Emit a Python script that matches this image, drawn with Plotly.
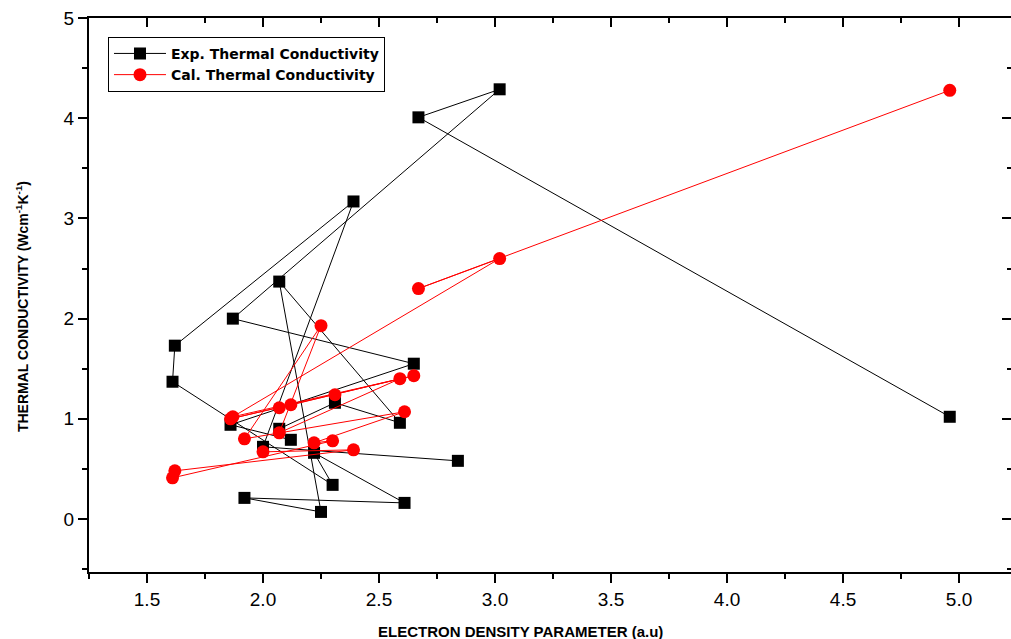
import plotly.graph_objects as go

# Electron density parameter (a.u), in plotting order
x_vals = [2.84, 2.00, 2.39, 1.62, 1.61, 2.30, 2.22, 2.61, 1.92, 2.25, 2.07,
          2.59, 2.31, 2.07, 2.12, 1.86, 2.65, 1.87, 3.02, 2.67, 4.96]
# Experimental thermal conductivity
exp_vals = [0.58, 0.72, 3.17, 1.73, 1.37, 0.34, 0.66, 0.16, 0.21, 0.07, 2.37,
            0.96, 1.16, 0.90, 0.79, 0.94, 1.55, 2.00, 4.29, 4.01, 1.02]
# Calculated thermal conductivity
cal_vals = [None, 0.67, 0.69, 0.48, 0.41, 0.78, 0.76, 1.07, 0.80, 1.93, 0.86,
            1.40, 1.24, 1.11, 1.14, 1.00, 1.43, 1.02, 2.60, 2.30, 4.28]

x_ticks = [1.5, 2.0, 2.5, 3.0, 3.5, 4.0, 4.5, 5.0]
x_tick_text = ["1.5", "2.0", "2.5", "3.0", "3.5", "4.0", "4.5", "5.0"]
y_ticks = [0, 1, 2, 3, 4, 5]

X_RANGE = [1.25, 5.224]
Y_RANGE = [-0.53, 5.002]

fig = go.Figure()
fig.add_trace(go.Scatter(
    x=x_vals, y=exp_vals, mode="lines+markers",
    name="Exp. Thermal Conductivity",
    line=dict(color="black", width=1),
    marker=dict(symbol="square", size=12, color="black"),
))
fig.add_trace(go.Scatter(
    x=x_vals, y=cal_vals, mode="lines+markers",
    name="Cal. Thermal Conductivity",
    line=dict(color="#ff0000", width=1),
    marker=dict(symbol="circle", size=13, color="#ff0000"),
))
# helper trace for the mirrored (top / right) axes
fig.add_trace(go.Scatter(x=[None], y=[None], xaxis="x2", yaxis="y2",
                         showlegend=False, hoverinfo="skip"))

tickfont = dict(family="Liberation Sans, Arial, sans-serif", size=19, color="black")

fig.update_layout(
    width=1011, height=639,
    margin=dict(l=89, r=0, t=18, b=67, autoexpand=False),
    paper_bgcolor="white", plot_bgcolor="white",
    showlegend=True,
    legend=dict(
        x=0.0206, y=0.966, xanchor="left", yanchor="top",
        bgcolor="white", bordercolor="black", borderwidth=1,
        font=dict(family="DejaVu Sans, Liberation Sans, Arial, sans-serif", size=14, color="black", weight="bold"),
        itemwidth=52, tracegroupgap=0,
    ),
    xaxis=dict(
        range=X_RANGE, showgrid=False, zeroline=False, automargin=False,
        showline=True, linecolor="black", linewidth=2,
        tickvals=x_ticks, ticktext=x_tick_text,
        ticks="outside", ticklen=9, tickwidth=2, tickcolor="black",
        minor=dict(ticks="outside", ticklen=5, tickwidth=1.5, tickcolor="black", dtick=0.25),
        tickfont=tickfont,
    ),
    yaxis=dict(
        range=Y_RANGE, showgrid=False, zeroline=False, automargin=False,
        showline=True, linecolor="black", linewidth=2,
        tickvals=y_ticks,
        ticks="outside", ticklen=9, tickwidth=2, tickcolor="black",
        minor=dict(ticks="outside", ticklen=5, tickwidth=1.5, tickcolor="black", dtick=0.5),
        tickfont=tickfont,
    ),
    xaxis2=dict(
        overlaying="x", side="top", range=X_RANGE, showgrid=False, zeroline=False,
        automargin=False,
        showline=True, linecolor="black", linewidth=2,
        tickvals=x_ticks, showticklabels=False,
        ticks="inside", ticklen=9, tickwidth=2, tickcolor="black",
        minor=dict(ticks="inside", ticklen=5, tickwidth=1.5, tickcolor="black", dtick=0.25),
    ),
    yaxis2=dict(
        overlaying="y", side="right", range=Y_RANGE, showgrid=False, zeroline=False,
        automargin=False,
        showline=False, tickvals=y_ticks, showticklabels=False,
        ticks="inside", ticklen=9, tickwidth=2, tickcolor="black",
        minor=dict(ticks="inside", ticklen=4, tickwidth=1.5, tickcolor="black", dtick=0.5),
    ),
    annotations=[
        dict(text="<b>ELECTRON DENSITY PARAMETER (a.u)</b>", xref="paper", yref="paper",
             x=0.4675, y=-0.1065, xanchor="center", yanchor="middle", showarrow=False,
             font=dict(family="Liberation Sans Narrow, Liberation Sans, Arial", size=15, color="black")),
        dict(text="<b>THERMAL CONDUCTIVITY (Wcm<sup>-1</sup>K<sup>-1</sup>)</b>", xref="paper", yref="paper",
             x=-0.0727, y=0.48, xanchor="center", yanchor="middle", textangle=-90, showarrow=False,
             font=dict(family="Liberation Sans Narrow, Liberation Sans, Arial", size=14, color="black")),
    ],
)

# remove the default page margin so the figure fills the window exactly
fig.write_html(
    "out.html",
    config={"displayModeBar": False},
    post_script="document.body.style.margin='0';document.body.style.overflow='hidden';",
)
